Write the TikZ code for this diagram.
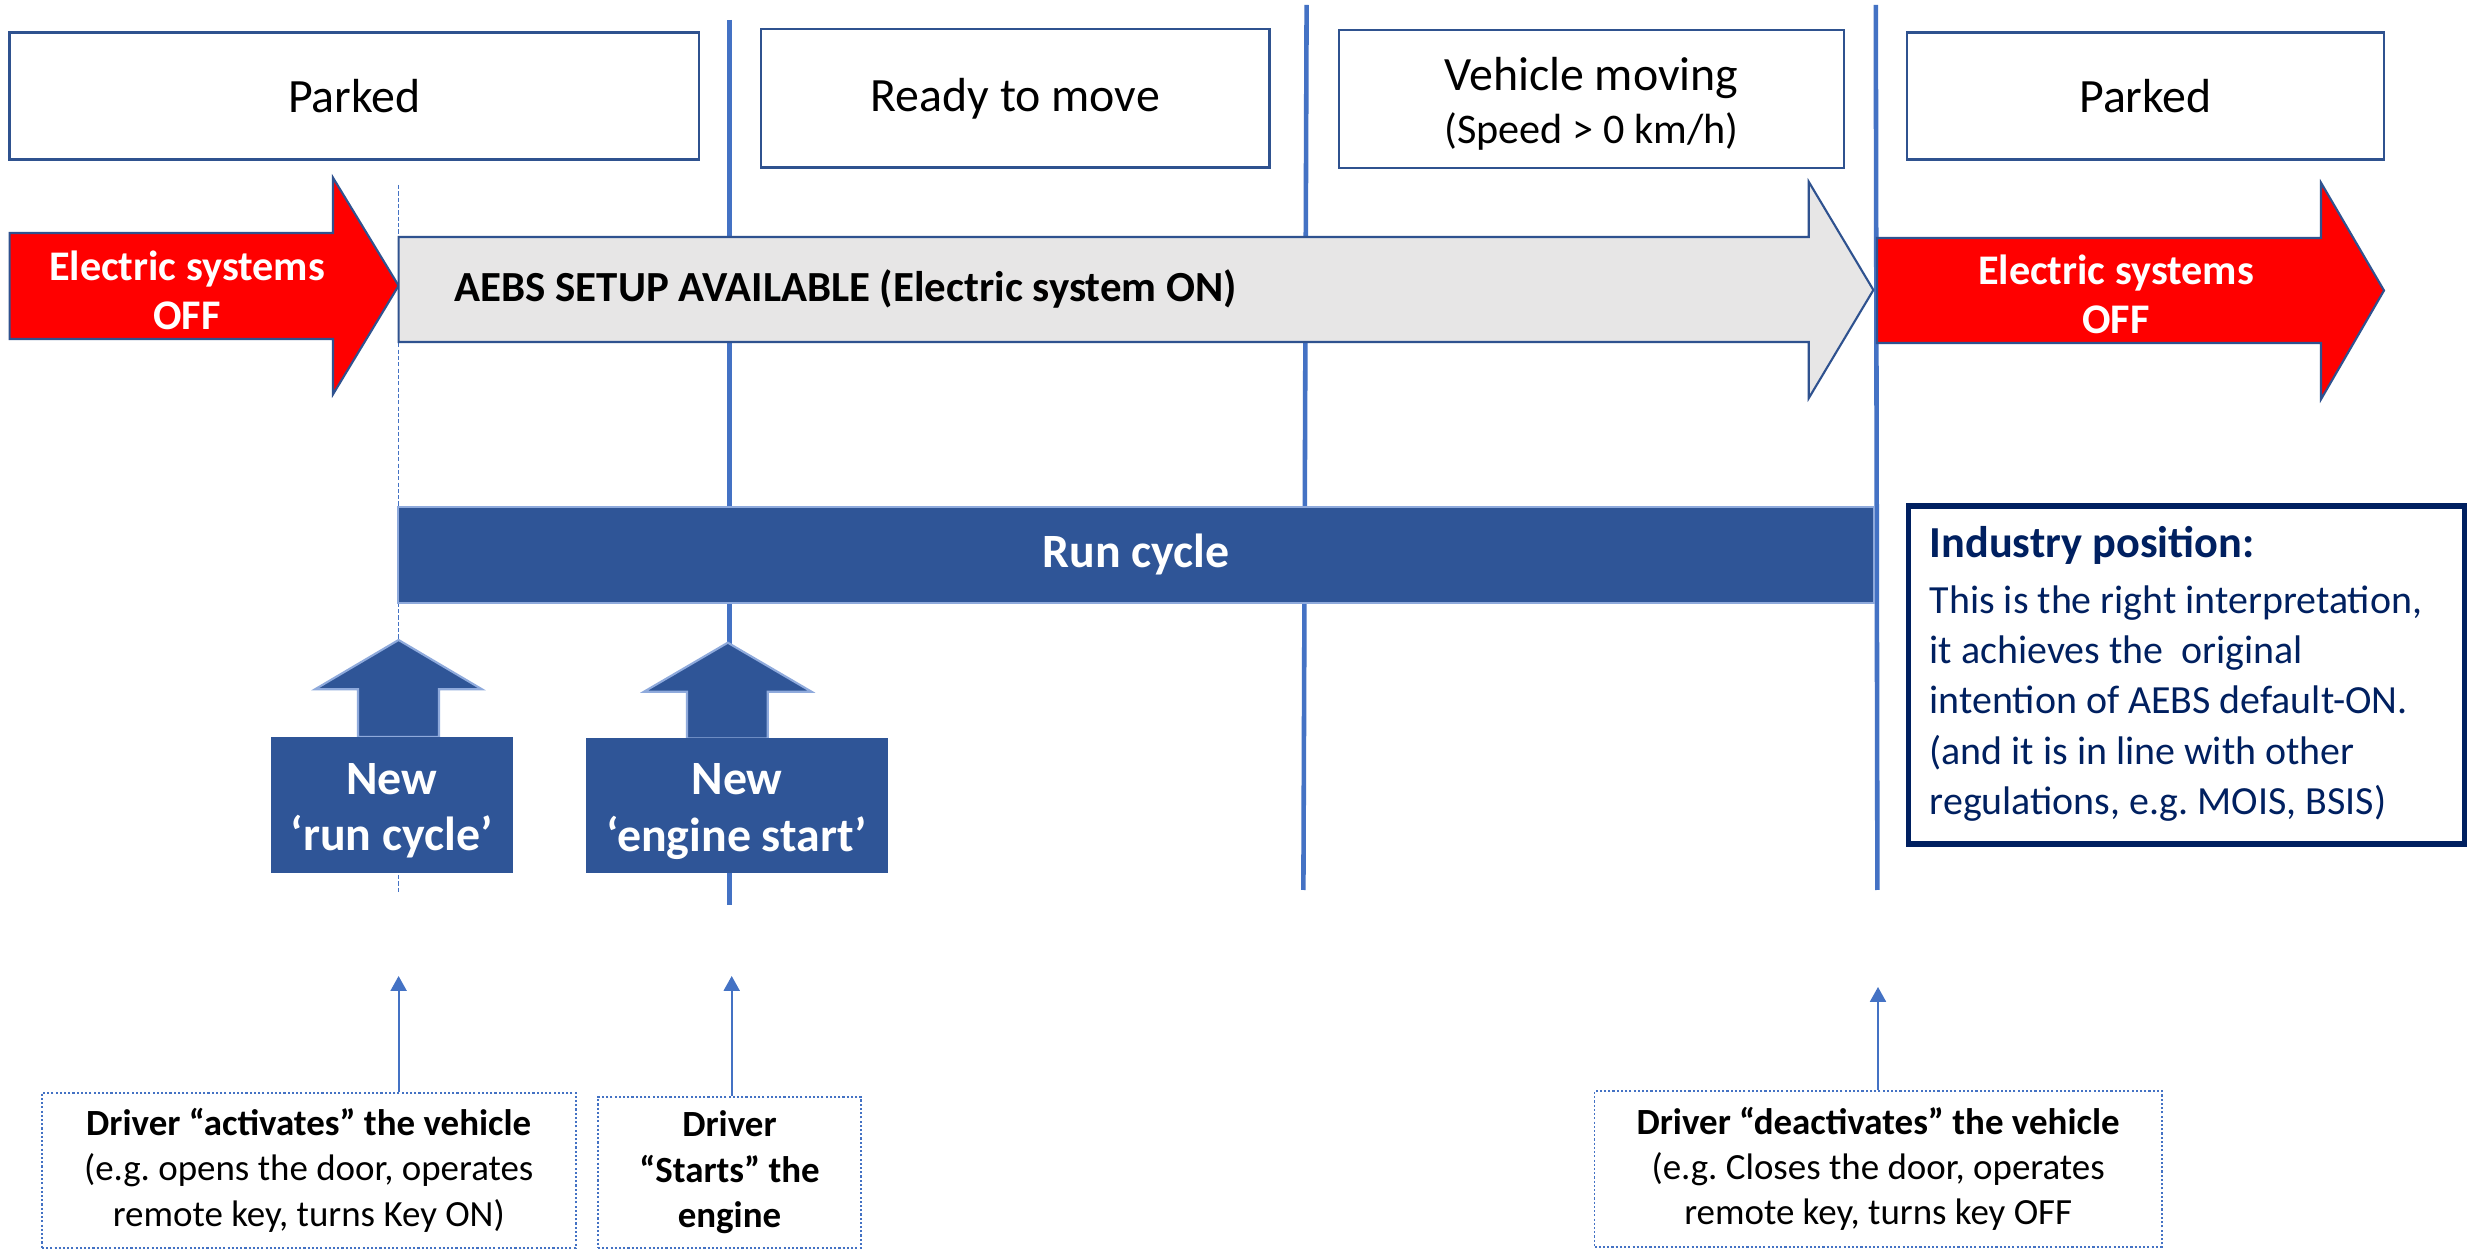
\documentclass[tikz,border=0pt]{standalone}
\usepackage{fontspec}
\setmainfont{Carlito}
\usetikzlibrary{arrows.meta,calc}
\definecolor{lineblue}{HTML}{4472C4}
\definecolor{boxblue}{HTML}{2F528F}
\definecolor{runblue}{HTML}{2F5597}
\definecolor{lightblue}{HTML}{8FAADC}
\definecolor{greyfill}{HTML}{E7E6E6}
\definecolor{navy}{HTML}{002060}
\definecolor{redfill}{HTML}{FF0000}
\frenchspacing
\begin{document}
\begin{tikzpicture}[x=0.01cm,y=-0.01cm,
  statebox/.style={draw=boxblue,line width=0.7pt,fill=white,inner sep=0pt,align=center,font=\fontsize{13.6}{15.1}\selectfont},
  statetext/.style={inner sep=0pt,align=center,font=\fontsize{13.6}{15.1}\selectfont},
  vline/.style={draw=lineblue,line width=1.3pt},
  dashline/.style={draw=lineblue,line width=0.4pt,dash pattern=on 1.2pt off 0.6pt},
  bigarrow/.style={draw=boxblue,line width=0.6pt},
  whitebold/.style={text=white,font=\bfseries\fontsize{12}{14}\selectfont,align=center,inner sep=0pt},
  newbox/.style={fill=runblue,inner sep=0pt},
  newtext/.style={inner sep=0pt,align=center,text=white,font=\bfseries\fontsize{13.6}{16}\selectfont},
  uparrow/.style={fill=runblue,draw=lightblue,line width=0.6pt},
  notebox/.style={draw=lineblue,line width=0.5pt,dash pattern=on 0.6pt off 0.6pt,inner sep=0pt,align=center,font=\fontsize{10.5}{12.9}\selectfont},
  thinarrow/.style={draw=lineblue,line width=0.6pt,-{Triangle[length=4.2pt,width=4.5pt]}}
]
\fill[white] (0,0) rectangle (2468,1249);
\useasboundingbox (0,0) rectangle (2468,1249);

% vertical lines
\coordinate (l1t) at (729.5,20);   \coordinate (l1b) at (729.5,905);
\coordinate (l2t) at (1306.6,5);   \coordinate (l2b) at (1303.4,890);
\coordinate (l3t) at (1875.8,5);   \coordinate (l3b) at (1877.4,890);
\coordinate (dt) at (398.6,185);   \coordinate (db) at (398.6,892);
\draw[vline] (l1t) -- (l1b);
\draw[vline] (l2t) -- (l2b);
\draw[vline] (l3t) -- (l3b);
\draw[dashline] (dt) -- (db);

% state boxes
\node[statebox,minimum width=6.894cm,minimum height=1.266cm] (parked1) at (354.3,96) {Parked};
\node[statebox,minimum width=5.085cm,minimum height=1.38cm] (ready) at (1015.25,98.3) {Ready to move};
\node[statebox,minimum width=5.05cm,minimum height=1.377cm] (moving) at (1591.5,98.85) {};
\node[statetext] (movingt) at (1591.5,104) {Vehicle moving\\{\fontsize{12}{15.1}\selectfont (Speed > 0 km/h)}};
\node[statebox,minimum width=4.77cm,minimum height=1.266cm] (parked2) at (2145.5,96) {Parked};

% big arrows
\filldraw[bigarrow,fill=redfill] (9.6,233) -- (333,233) -- (333,177.7) -- (398.6,285.7) -- (333,394.3) -- (333,339) -- (9.6,339) -- cycle;
\filldraw[bigarrow,fill=greyfill] (398.6,237) -- (1808.7,237) -- (1808.7,181.7) -- (1873.4,290) -- (1808.7,398.3) -- (1808.7,342) -- (398.6,342) -- cycle;
\filldraw[bigarrow,fill=redfill] (1877,238) -- (2321,238) -- (2321,182.7) -- (2384,290.5) -- (2321,399.3) -- (2321,343) -- (1877,343) -- cycle;
\node[whitebold] (off1) at (187,290) {Electric systems\\OFF};
\node[whitebold] (off2) at (2116,294) {Electric systems\\OFF};
\node[anchor=west,inner sep=0pt,font=\bfseries\fontsize{12.2}{14}\selectfont] (aebs) at (454,289) {AEBS SETUP AVAILABLE (Electric system ON)};

% run cycle bar
\node[fill=runblue,draw=lightblue,line width=0.6pt,inner sep=0pt,minimum width=14.748cm,minimum height=0.96cm,text=white,font=\bfseries\fontsize{13.6}{15}\selectfont] (run) at (1136,554.7) {Run cycle};

% up block arrows and new boxes
\filldraw[uparrow] (398.6,640) -- (482,689.3) -- (439,689.3) -- (439,737) -- (358,737) -- (358,689.3) -- (315,689.3) -- cycle;
\filldraw[uparrow] (727.8,642.7) -- (811.5,691.7) -- (767.7,691.7) -- (767.7,738.5) -- (687,738.5) -- (687,691.7) -- (644,691.7) -- cycle;
\node[newbox,minimum width=2.416cm,minimum height=1.354cm] (new1) at (391.8,805) {};
\node[newbox,minimum width=3.02cm,minimum height=1.353cm] (new2) at (737,805.6) {};
\node[newtext] (new1t) at ($(new1.center)+(0,6)$) {New\\‘run cycle’};
\node[newtext] (new2t) at ($(new2.center)+(0,6)$) {New\\‘engine start’};

% industry box
\node[draw=navy,line width=1.5pt,fill=white,minimum width=5.55cm,minimum height=3.38cm,inner sep=0pt] (indbox) at (2186.5,675) {};
\node[anchor=north west,inner sep=0pt,align=left,text=navy,font=\fontsize{11.35}{14.3}\selectfont] (indtext) at (1929,526) {{\bfseries\fontsize{12.6}{15}\selectfont Industry position:}\\[1.5pt]This is the right interpretation,\\it achieves the~ original\\intention of AEBS default-ON.\\(and it is in line with other\\regulations, e.g. MOIS, BSIS)};

% driver boxes
\node[notebox,minimum width=5.335cm,minimum height=1.55cm] (drv1) at (308.75,1170.2) {{\bfseries Driver “activates” the vehicle}\\(e.g. opens the door, operates\\remote key, turns Key ON)};
\node[notebox,minimum width=2.63cm,minimum height=1.507cm] (drv2) at (729.5,1172.35) {\bfseries Driver\\\bfseries “Starts” the\\\bfseries engine};
\node[notebox,minimum width=5.669cm,minimum height=1.557cm] (drv3) at (1878.15,1168.85) {{\bfseries Driver “deactivates” the vehicle}\\(e.g. Closes the door, operates\\remote key, turns key OFF};

% thin arrows
\coordinate (t1) at (398.6,976);
\coordinate (t2) at (731.7,976);
\coordinate (t3) at (1878,987);
\draw[thinarrow] (drv1.north -| t1) -- (t1);
\draw[thinarrow] (drv2.north -| t2) -- (t2);
\draw[thinarrow] (drv3.north -| t3) -- (t3);
\end{tikzpicture}
\end{document}
